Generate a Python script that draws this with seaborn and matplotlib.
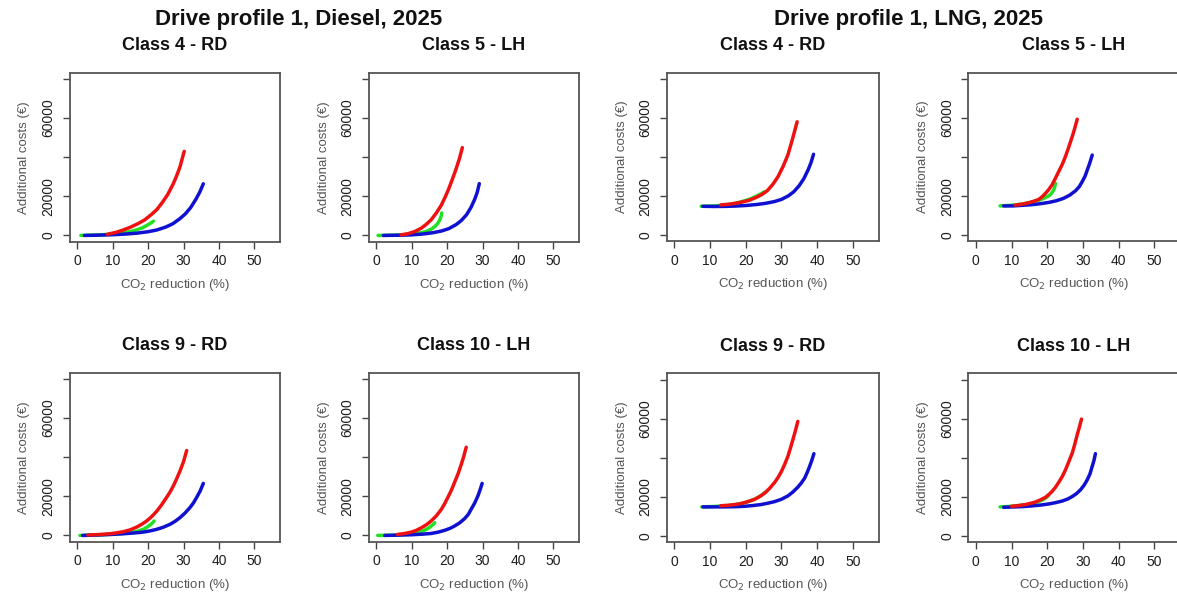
import matplotlib
matplotlib.use("Agg")
import matplotlib.pyplot as plt
import seaborn as sns

# ---- data: CO2 reduction (%) vs additional costs (EUR) ----
# Diesel, Class 4 - RD
dsl_c4_red_x = [8.5, 11, 13, 15, 17, 19, 21, 22.5, 24, 25.5, 27, 28, 29, 30.2]
dsl_c4_red_y = [600, 1600, 2800, 4200, 5900, 7900, 10800, 13300, 16800, 20800, 26000, 30200, 35000, 43000]
dsl_c4_blue_x = [2, 5, 8, 11, 14, 17, 20, 22.5, 25, 27, 29, 30.5, 32, 33.5, 34.6, 35.6]
dsl_c4_blue_y = [0, 100, 250, 450, 750, 1200, 1900, 2800, 4300, 6000, 8600, 11000, 14200, 18500, 22200, 26400]
dsl_c4_green_x = [1, 4, 7, 10, 13, 15, 17, 18.5, 20, 21, 21.5]
dsl_c4_green_y = [0, 150, 350, 700, 1300, 2000, 3000, 4000, 5500, 6600, 7300]

# Diesel, Class 5 - LH
dsl_c5_red_x = [7, 9, 11, 12.7, 14, 15.5, 17, 18.4, 19.5, 20.5, 21.5, 22.5, 23.5, 24.3]
dsl_c5_red_y = [300, 900, 2100, 3700, 5500, 8000, 11600, 15600, 19800, 24000, 28800, 33800, 39400, 44900]
dsl_c5_blue_x = [2, 6, 10, 13, 16, 18.5, 20.5, 22.5, 24, 25.5, 26.8, 27.8, 28.5, 29.1]
dsl_c5_blue_y = [0, 100, 300, 700, 1400, 2300, 3500, 5500, 7600, 10600, 14500, 18500, 22000, 26500]
dsl_c5_green_x = [0.5, 4, 8, 11, 13, 14.5, 15.5, 16.5, 17.3, 17.9, 18.3, 18.5]
dsl_c5_green_y = [0, 100, 400, 900, 1500, 2300, 3200, 4500, 6000, 7800, 9800, 11500]

# Diesel, Class 9 - RD
dsl_c9_red_x = [3, 6, 9.2, 11, 13, 15, 16.8, 18.2, 19.6, 21, 22.4, 23.8, 25.2, 26.2, 27.1, 28, 29, 30, 30.9]
dsl_c9_red_y = [200, 450, 860, 1300, 1900, 2900, 4300, 5700, 7400, 9600, 12300, 15600, 19400, 22200,
                25200, 28700, 32900, 37700, 43400]
dsl_c9_blue_x = [1.5, 4.5, 7.3, 10, 13, 16, 18.6, 20.5, 22.4, 24.3, 26.2, 27.6, 29, 30.4, 31.8, 32.8,
                 33.7, 34.7, 35.6]
dsl_c9_blue_y = [0, 150, 340, 560, 860, 1250, 1700, 2300, 3100, 4200, 5700, 7200, 9100, 11400, 14200,
                 16600, 19400, 22700, 26600]
dsl_c9_green_x = [0.75, 5, 10, 13, 15.8, 17.3, 18.6, 19.6, 20.5, 21.2, 21.7]
dsl_c9_green_y = [0, 200, 600, 1000, 1700, 2300, 3100, 4100, 5300, 6300, 7400]

# Diesel, Class 10 - LH
dsl_c10_red_x = [6, 8, 9.9, 11.3, 12.7, 14.1, 15.5, 17, 18.4, 19.3, 20.2, 21.2, 22.1, 23.1, 24, 24.7, 25.4]
dsl_c10_red_y = [500, 1000, 1700, 2600, 3900, 5400, 7400, 10100, 13400, 16200, 19400, 23100, 27100,
                 31500, 36300, 40400, 45100]
dsl_c10_blue_x = [2.4, 6, 9.9, 13, 15.5, 17.5, 19.3, 20.8, 22.1, 23.6, 25, 26, 26.8, 27.8, 28.7, 29.3, 29.9]
dsl_c10_blue_y = [0, 150, 340, 650, 1000, 1700, 2600, 3600, 4800, 6500, 8700, 10800, 13400, 16600,
                  20200, 23200, 26600]
dsl_c10_green_x = [0.4, 5, 9, 10.5, 11.8, 13, 14.1, 14.9, 15.5, 16.1, 16.5]
dsl_c10_green_y = [0, 150, 700, 1000, 1400, 2200, 3100, 3900, 4800, 5700, 6500]

# LNG, Class 4 - RD
lng_c4_red_x = [13, 15, 17, 19, 21, 23, 24.5, 26, 27.5, 29, 30.5, 31.8, 33, 34.4]
lng_c4_red_y = [15500, 15800, 16300, 17000, 17900, 19400, 20800, 22700, 25800, 29800, 35300, 41000,
                48500, 58000]
lng_c4_blue_x = [8, 11, 14, 17, 20, 23, 25.5, 28, 30, 32, 33.5, 35, 36.3, 37.5, 38.3, 39]
lng_c4_blue_y = [14800, 14700, 14750, 14900, 15200, 15700, 16300, 17200, 18300, 20200, 22300, 25400,
                 29000, 33500, 37200, 41400]
lng_c4_green_x = [7.5, 10, 13, 16, 18, 20, 21.5, 23, 24.2, 25.2]
lng_c4_green_y = [14800, 14900, 15200, 15900, 16700, 17800, 18700, 20000, 21100, 22200]

# LNG, Class 5 - LH
lng_c5_red_x = [11, 13, 14.8, 16.3, 17.6, 18.6, 19.5, 20.4, 21.3, 22.2, 23.2, 24.2, 25.1, 26, 27, 27.7, 28.4]
lng_c5_red_y = [15400, 15900, 16600, 17400, 18300, 19700, 21400, 23300, 25600, 28800, 32500, 36200,
                40200, 44900, 50400, 54600, 59300]
lng_c5_blue_x = [7.8, 10.5, 13, 15.5, 18, 20.5, 22.5, 24.5, 26.3, 27.9, 29, 29.8, 30.6, 31.2, 31.9, 32.6]
lng_c5_blue_y = [15000, 15000, 15300, 15600, 16100, 16800, 17600, 18800, 20500, 22700, 24900, 27400,
                 30200, 33300, 36800, 41000]
lng_c5_green_x = [6.8, 9, 11, 13, 14.8, 16.5, 18, 19.3, 20.3, 20.9, 21.4, 21.8, 22.1, 22.3]
lng_c5_green_y = [15000, 15200, 15500, 16000, 16600, 17400, 18100, 19100, 20000, 20800, 21900, 23100,
                  24600, 26500]

# LNG, Class 9 - RD
lng_c9_red_x = [13, 15, 16.9, 18.3, 19.7, 21.1, 22.5, 23.9, 25.3, 26.7, 28.1, 29.1, 30, 30.9, 31.8,
                32.5, 33.2, 33.9, 34.6]
lng_c9_red_y = [15500, 15700, 16100, 16500, 17100, 17900, 18800, 20200, 21900, 24400, 27400, 30100,
                33000, 36600, 40700, 44800, 49200, 53700, 58600]
lng_c9_blue_x = [8, 11, 14, 17, 19.7, 22, 24.3, 26.2, 28.1, 30, 31.8, 33.2, 34.6, 35.6, 36.5, 37.2,
                 37.9, 38.5, 39.1]
lng_c9_blue_y = [14900, 14900, 14900, 15000, 15200, 15600, 16100, 16800, 17600, 18800, 20500, 22500,
                 25000, 27200, 29600, 32400, 35600, 38600, 42100]
lng_c9_green_x = [7.7, 11, 15, 17, 18.7, 20.2, 21.5, 22.8, 23.9, 24.7, 25.3]
lng_c9_green_y = [14900, 15100, 15600, 16000, 16600, 17300, 18100, 19100, 20200, 21200, 22200]

# LNG, Class 10 - LH
lng_c10_red_x = [10, 12, 13.9, 15.3, 16.7, 18.1, 19.5, 20.4, 21.3, 22.3, 23.2, 24.2, 25.1, 26, 27,
                 27.7, 28.4, 29, 29.6]
lng_c10_red_y = [15200, 15600, 16100, 16700, 17400, 18500, 19800, 21100, 22700, 24900, 27400, 30400,
                 33800, 37800, 42400, 46800, 51800, 55600, 59800]
lng_c10_blue_x = [7.8, 11, 13.5, 15.7, 18, 20.4, 22.4, 24.2, 25.7, 27, 28.2, 29.3, 30.3, 31.2, 32,
                  32.6, 33.1, 33.5]
lng_c10_blue_y = [14700, 14900, 15100, 15400, 15800, 16400, 17100, 17900, 18900, 20200, 21700, 23600,
                  25900, 28700, 31900, 35600, 38700, 42100]
lng_c10_green_x = [6.8, 9, 11, 13, 14.8, 16.3, 17.6, 18.6, 19.5, 20, 20.4]
lng_c10_green_y = [14900, 15100, 15400, 15800, 16200, 16800, 17600, 18400, 19300, 20100, 21000]

group_titles = ["Drive profile 1, Diesel, 2025", "Drive profile 1, LNG, 2025"]
panel_titles = ["Class 4 - RD", "Class 5 - LH", "Class 9 - RD", "Class 10 - LH"]
x_ticks = [0, 10, 20, 30, 40, 50]
y_ticks = [0, 20000, 40000, 60000, 80000]
y_tick_labels = ["0", "20000", "", "60000", ""]

RED, BLUE, GREEN = "#ee1111", "#1010d0", "#22e022"

# (left px, top px, width px, height px, title, series drawn bottom-to-top)
panels = [
    (69.5, 72.7, 210.3, 169, panel_titles[0],
     [(dsl_c4_green_x, dsl_c4_green_y, GREEN), (dsl_c4_blue_x, dsl_c4_blue_y, BLUE), (dsl_c4_red_x, dsl_c4_red_y, RED)]),
    (368.5, 72.7, 210.3, 169, panel_titles[1],
     [(dsl_c5_green_x, dsl_c5_green_y, GREEN), (dsl_c5_blue_x, dsl_c5_blue_y, BLUE), (dsl_c5_red_x, dsl_c5_red_y, RED)]),
    (666.5, 72.5, 212, 169, panel_titles[0],
     [(lng_c4_green_x, lng_c4_green_y, GREEN), (lng_c4_blue_x, lng_c4_blue_y, BLUE), (lng_c4_red_x, lng_c4_red_y, RED)]),
    (968, 72.5, 212, 169, panel_titles[1],
     [(lng_c5_green_x, lng_c5_green_y, GREEN), (lng_c5_blue_x, lng_c5_blue_y, BLUE), (lng_c5_red_x, lng_c5_red_y, RED)]),
    (69.5, 372.7, 210.3, 169, panel_titles[2],
     [(dsl_c9_green_x, dsl_c9_green_y, GREEN), (dsl_c9_blue_x, dsl_c9_blue_y, BLUE), (dsl_c9_red_x, dsl_c9_red_y, RED)]),
    (368.5, 372.7, 210.3, 169, panel_titles[3],
     [(dsl_c10_green_x, dsl_c10_green_y, GREEN), (dsl_c10_blue_x, dsl_c10_blue_y, BLUE), (dsl_c10_red_x, dsl_c10_red_y, RED)]),
    (666.5, 373.3, 212, 169, panel_titles[2],
     [(lng_c9_green_x, lng_c9_green_y, GREEN), (lng_c9_blue_x, lng_c9_blue_y, BLUE), (lng_c9_red_x, lng_c9_red_y, RED)]),
    (968, 373.3, 212, 169, panel_titles[3],
     [(lng_c10_green_x, lng_c10_green_y, GREEN), (lng_c10_blue_x, lng_c10_blue_y, BLUE), (lng_c10_red_x, lng_c10_red_y, RED)]),
]

sns.set_theme(style="ticks")
plt.rcParams["font.family"] = ["Liberation Sans", "DejaVu Sans"]

W, H = 1177, 599
fig = plt.figure(figsize=(W / 100, H / 100), dpi=100)

for left, top, width, height, title, series in panels:
    ax = fig.add_axes([left / W, 1 - (top + height) / H, width / W, height / H])
    for xs, ys, col in series:
        sns.lineplot(x=xs, y=ys, ax=ax, color=col, linewidth=2.5, sort=False,
                     estimator=None, solid_capstyle="round", solid_joinstyle="round")
    ax.set_xlim(-2.2, 57.2)
    ax.set_ylim(-3200, 83200)
    ax.set_xticks(x_ticks)
    ax.set_xticklabels([str(t) for t in x_ticks])
    ax.set_yticks(y_ticks)
    ax.set_yticklabels(y_tick_labels, rotation=90, va="center")
    ax.tick_params(axis="both", direction="out", length=5, width=1, color="#444444",
                   labelcolor="#1e1e1e", labelsize=10, bottom=True, left=True)
    ax.tick_params(axis="x", pad=4)
    ax.tick_params(axis="y", pad=5)
    for sp in ax.spines.values():
        sp.set_visible(True)
        sp.set_color("#555555")
        sp.set_linewidth(1.3)
    ax.set_xlabel("CO$_2$ reduction (%)", color="#555555", fontsize=9.5, labelpad=6)
    ax.set_ylabel("Additional costs (€)", color="#555555", fontsize=9.5, labelpad=8)
    ax.grid(False)
    ax.text(0.5, (height + 27) / height, title, transform=ax.transAxes,
            ha="center", va="center", fontsize=13, fontweight="bold", color="#111111")

fig.text(299 / W, 1 - 20 / H, group_titles[0], ha="center", va="center",
         fontsize=16, fontweight="bold", color="#111111")
fig.text(908 / W, 1 - 20 / H, group_titles[1], ha="center", va="center",
         fontsize=16, fontweight="bold", color="#111111")

fig.savefig("out.png", dpi=100, facecolor="white")
